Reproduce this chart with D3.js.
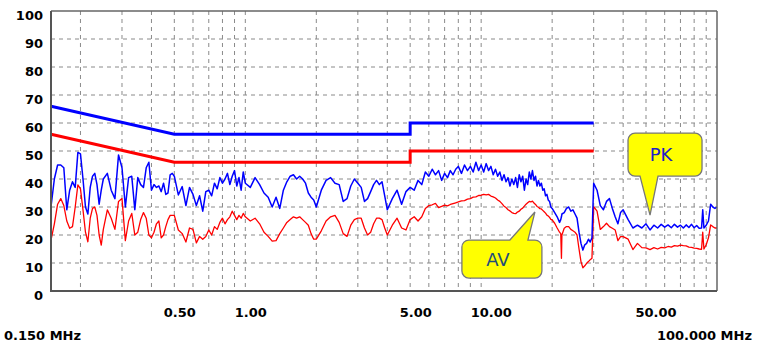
<!DOCTYPE html>
<html><head><meta charset="utf-8">
<script src="https://cdn.jsdelivr.net/npm/d3@7"></script>
<style>
html,body{margin:0;padding:0;background:#fff;}
svg{display:block;}
.lbl{font-family:"DejaVu Sans",sans-serif;font-weight:bold;font-size:13px;fill:#000;}
</style></head>
<body>
<svg id="chart" width="764" height="344"></svg>
<script>
// ---- data (MHz, dBuV) ----
const freq = [
 0.150,0.155,0.160,0.165,0.170,0.175,0.180,0.185,0.190,0.195,0.200,0.205,0.210,0.215,0.220,0.225,0.230,0.235,0.240,0.245,
 0.25,0.26,0.27,0.28,0.29,0.30,0.31,0.32,0.33,0.34,0.35,0.36,0.37,0.38,0.39,0.40,0.41,0.42,0.43,0.44,0.45,0.46,0.47,0.48,0.49,
 0.50,0.52,0.54,0.56,0.58,0.60,0.62,0.64,0.66,0.68,0.70,0.72,0.74,0.76,0.78,0.80,0.82,0.84,0.86,0.88,0.90,0.92,0.94,0.96,0.98,
 1.00,1.05,1.10,1.15,1.20,1.25,1.30,1.35,1.40,1.45,1.50,1.55,1.60,1.65,1.70,1.75,1.80,1.85,1.90,1.95,
 2.0,2.1,2.2,2.3,2.4,2.5,2.6,2.7,2.8,2.9,3.0,3.1,3.2,3.3,3.4,3.5,3.6,3.7,3.8,3.9,
 4.0,4.2,4.4,4.6,4.8,5.0,5.2,5.4,5.6,5.8,6.0,6.2,6.4,6.6,6.8,7.0,7.2,7.4,7.6,7.8,
 8.0,8.25,8.5,8.75,9.0,9.25,9.5,9.75,10,10.25,10.5,10.75,11,11.25,11.5,11.75,12,12.25,12.5,12.75,13,13.25,13.5,13.75,
 14,14.25,14.5,14.75,15,15.25,15.5,15.75,16,16.25,16.5,16.75,17,17.25,17.5,17.75,18,18.25,18.5,18.75,19,19.25,19.5,19.75,
 20,20.5,21,21.5,21.75,21.9,22,22.5,23,23.5,24,24.5,25,25.5,26,26.5,27,27.5,28,28.5,29,29.5,30,
 31,32,33,34,35,36,37,38,39,40,42,44,46,48,50,52,54,56,58,60,62,64,66,68,70,72,74,76,78,80,82,84,86,87,88,90,92,94,96,98,100
];
const pk = [
 30.1,40,45,45,44,29,36,39,37,49.5,49,40,30,27.5,37,41,42,38,31,36,
 40,42,36,33,48.6,44,30,40.5,41,29,40.5,38,37,44,46,36,38,37,37.5,35.5,38.5,34.5,35,41.5,42,
 41,34.3,37.3,30.5,37,34.5,30.5,34,28.5,35.5,36,34,38.5,36.5,40.5,38.5,40,42,38,41,43,37.5,40.5,36,42.5,
 38.5,37,40.5,38,35,33.5,30,33.5,29.5,36,39,41,41.5,40,41,40,38.5,35,33.5,32.5,
 30,36,39.5,40.5,38.5,38,32,33,37.5,40,38.5,37,32,33,35.5,38,39.5,38,39,34,
 29,33,36,31,35.5,37,36,39.5,38,42.5,41,43.5,41.5,43,39.5,42,40.5,43,41.5,43.5,
 44.5,42,45,43,44.5,42.5,46,43,45,42.5,45.5,43,44.5,41.5,43.5,41,42.5,39.5,41.5,39,40.5,37.5,40,38,
 40.5,37,41.5,39,41,36,40,38,42.5,40,43,39.5,41,37.5,39.5,37.5,38.5,36,36.5,34,34.5,32.5,32,30,
 29.5,28,26.5,24.5,25.5,26.5,27.5,28,29.5,30,28.5,29,27.5,26,21,17,14.6,16.5,17,18.5,17.5,19,38.5,
 36,30.5,29,32,33,29.5,26.5,24,28,29,25.5,22.5,23.5,22.5,24,21.8,23.5,22.5,23.8,22.8,23.6,22.6,23.8,22.8,23.5,22.5,23.6,22.7,23.8,22.6,23.4,22.4,22.5,29,22.5,23.5,25,31,30,29.5,30
];
const av = [
 18.2,24,31,33,30.5,25,22.4,23,30,37.9,36.5,29,21,17.6,26,29.5,30,27,20,16.4,
 22,29,26,22,32,33,18,25,27.7,20,21,25.5,28,26,20,19,21,24,25,19,20,23,25.5,27,27,
 27,21.8,20.5,17.5,22.5,22,17.2,19.5,18.5,19.5,21.8,20,23,22,24.5,26,24,25.5,26.5,28.5,27,25.5,27,26,27.7,
 26.5,25,26,24,21,19.5,17.8,18,20.5,22.5,24.5,25.5,26.5,26,26.5,25.5,24.5,23.5,20.5,18.5,
 18.5,21.5,25,26.5,27,24.5,20.5,19.5,23.5,25.5,26,26,22.5,20,21,24,26,26,25.5,22.5,
 20,23.5,26,22.5,21.8,25.5,26.5,25,26.5,29.5,30.5,30.8,31.3,29.8,30.2,30.7,30.4,30.9,31.2,31.5,
 31.8,32.2,32.3,32.8,33.0,33.5,33.6,34.1,34.2,34.5,34.3,34.5,33.9,33.6,33.2,32.5,32.0,31.2,30.3,29.8,29.0,28.6,28.0,27.7,
 27.6,28.2,28.5,29.2,29.6,30.3,31.0,31.5,32.0,31.8,32.1,31.4,30.9,30.2,29.9,29.4,29.3,28.8,28.3,27.8,27.1,26.8,26.3,25.6,
 25.4,24.2,22.5,21,20.5,11.7,20,22.4,23,23,22,21.5,21,20,15,10.5,8.3,9,9.9,10.5,11.2,11.7,30.1,
 28.5,22,23,24.2,23,22.4,21.8,18,19.4,19.4,18.5,14.8,17,15.5,15.4,14.8,15.5,15,15.6,15.4,15.9,15.7,16.2,16,16.4,16.2,16.1,15.7,15.6,15.3,15.2,15,14.9,21,15,16.5,19,23.6,23,22.5,22.5
];
// limit lines (MHz, dB)
const pkLimitF = [0.15, 0.5, 5, 5, 30];
const pkLimitV = [66, 56, 56, 60, 60];
const avLimitF = [0.15, 0.5, 5, 5, 30];
const avLimitV = [56, 46, 46, 50, 50];
// axis ticks / labels
const yTicks = [0,10,20,30,40,50,60,70,80,90,100];
const xGrid = [0.2,0.3,0.4,0.5,0.6,0.7,0.8,0.9,1,2,3,4,5,6,7,8,9,10,20,30,40,50,60,70,80,90];
const xLabelVals = [0.5, 1, 5, 10, 50];
const xLabelText = ["0.50","1.00","5.00","10.00","50.00"];
const rangeLabels = ["0.150 MHz","100.000 MHz"];
// callouts: label, anchor frequency, anchor level
const callouts = [
 {label:"PK", f:52.0, v:27.1, color:"#2020c8"},
 {label:"AV", f:16.9, v:28.2, color:"#1f4e79"}
];

// ---- drawing ----
const svg = d3.select("#chart");
const W=764,H=344, L=51, R=717, T=11, B=291;
const x = d3.scaleLog().domain([0.15,100]).range([L,R]);
const y = d3.scaleLinear().domain([0,100]).range([B,T]);

svg.append("rect").attr("width",W).attr("height",H).attr("fill","#fff");

// grid
const g = svg.append("g");
g.selectAll("line.v").data(xGrid).join("line")
  .attr("x1",d=>x(d)).attr("x2",d=>x(d)).attr("y1",T).attr("y2",B)
  .attr("stroke","#8a8a8a").attr("stroke-width",1).attr("stroke-dasharray","4,4");
g.selectAll("line.h").data(yTicks.filter(d=>d>0&&d<100)).join("line")
  .attr("x1",L).attr("x2",R).attr("y1",d=>y(d)).attr("y2",d=>y(d))
  .attr("stroke","#8a8a8a").attr("stroke-width",1).attr("stroke-dasharray","4,4");

// limit lines
const lim = d3.line().x(d=>x(d[0])).y(d=>y(d[1]));
svg.append("path").attr("d",lim(d3.zip(pkLimitF,pkLimitV))).attr("fill","none").attr("stroke","#0000ff").attr("stroke-width",3);
svg.append("path").attr("d",lim(d3.zip(avLimitF,avLimitV))).attr("fill","none").attr("stroke","#ff0000").attr("stroke-width",3);

// traces
const tr = d3.line().x(d=>x(d[0])).y(d=>y(d[1]));
svg.append("path").attr("d",tr(d3.zip(freq,av))).attr("fill","none").attr("stroke","#ff0000").attr("stroke-width",1.3).attr("stroke-linejoin","round");
svg.append("path").attr("d",tr(d3.zip(freq,pk))).attr("fill","none").attr("stroke","#0000ff").attr("stroke-width",1.5).attr("stroke-linejoin","round");

// frame
svg.append("line").attr("x1",L).attr("x2",R).attr("y1",T).attr("y2",T).attr("stroke","#666").attr("stroke-width",1.5);
svg.append("line").attr("x1",R).attr("x2",R).attr("y1",T).attr("y2",B).attr("stroke","#666").attr("stroke-width",1.5);
svg.append("line").attr("x1",L).attr("x2",L).attr("y1",T).attr("y2",B+1).attr("stroke","#555").attr("stroke-width",2);
svg.append("line").attr("x1",L-1).attr("x2",R).attr("y1",B).attr("y2",B).attr("stroke","#555").attr("stroke-width",2);

// y axis labels
const ya = d3.axisLeft(y).tickValues(yTicks).tickSize(0).tickPadding(8);
const yg = svg.append("g").attr("transform",`translate(${L},4)`).call(ya);
yg.select(".domain").remove();
yg.selectAll("text").attr("class","lbl").attr("font-family",null).attr("font-size",null);

// x labels
const xa = d3.axisBottom(x).tickValues(xLabelVals).tickFormat((d,i)=>xLabelText[i]).tickSize(0);
const xg = svg.append("g").attr("transform",`translate(0,${B})`).call(xa);
xg.select(".domain").remove();
xg.selectAll("text").attr("class","lbl").attr("font-family",null).attr("font-size",null)
  .attr("y",17).attr("text-anchor","start").attr("dx",-11);

svg.append("text").attr("class","lbl").attr("x",x(0.15)-47).attr("y",B+49).text(rangeLabels[0]);
svg.append("text").attr("class","lbl").attr("x",x(100)+35).attr("y",B+49).attr("text-anchor","end").text(rangeLabels[1]);

// callouts
function calloutPath(x0,y0,x1,y1,r,side,b0,b1,tx,ty){
  const p=d3.path();
  p.moveTo(x0+r,y0);
  if(side==="top"){p.lineTo(b0,y0);p.lineTo(tx,ty);p.lineTo(b1,y0);}
  p.lineTo(x1-r,y0); p.arcTo(x1,y0,x1,y0+r,r);
  p.lineTo(x1,y1-r); p.arcTo(x1,y1,x1-r,y1,r);
  if(side==="bottom"){p.lineTo(b1,y1);p.lineTo(tx,ty);p.lineTo(b0,y1);}
  p.lineTo(x0+r,y1); p.arcTo(x0,y1,x0,y1-r,r);
  p.lineTo(x0,y0+r); p.arcTo(x0,y0,x0+r,y0,r);
  p.closePath();
  return p.toString();
}
callouts.forEach(c=>{
  const tx=x(c.f), ty=y(c.v);
  let bx0,by0,bx1,by1,side,b0,b1;
  if(c.label==="PK"){ bx0=tx-22; bx1=tx+52; by0=ty-82; by1=ty-39; side="bottom"; b0=tx-10; b1=tx+8; }
  else { bx0=tx-73; bx1=tx+7; by0=ty+28; by1=ty+66; side="top"; b0=tx-25; b1=tx-7; }
  svg.append("path").attr("d",calloutPath(bx0,by0,bx1,by1,7,side,b0,b1,tx,ty))
    .attr("fill","#ffff00").attr("stroke","#777").attr("stroke-width",1.3);
  svg.append("text").attr("x",(bx0+bx1)/2-4).attr("y",(by0+by1)/2+6.5)
    .attr("text-anchor","middle").attr("font-family","'DejaVu Sans',sans-serif").attr("font-size",18)
    .attr("fill",c.color).text(c.label);
});
</script>
</body></html>
